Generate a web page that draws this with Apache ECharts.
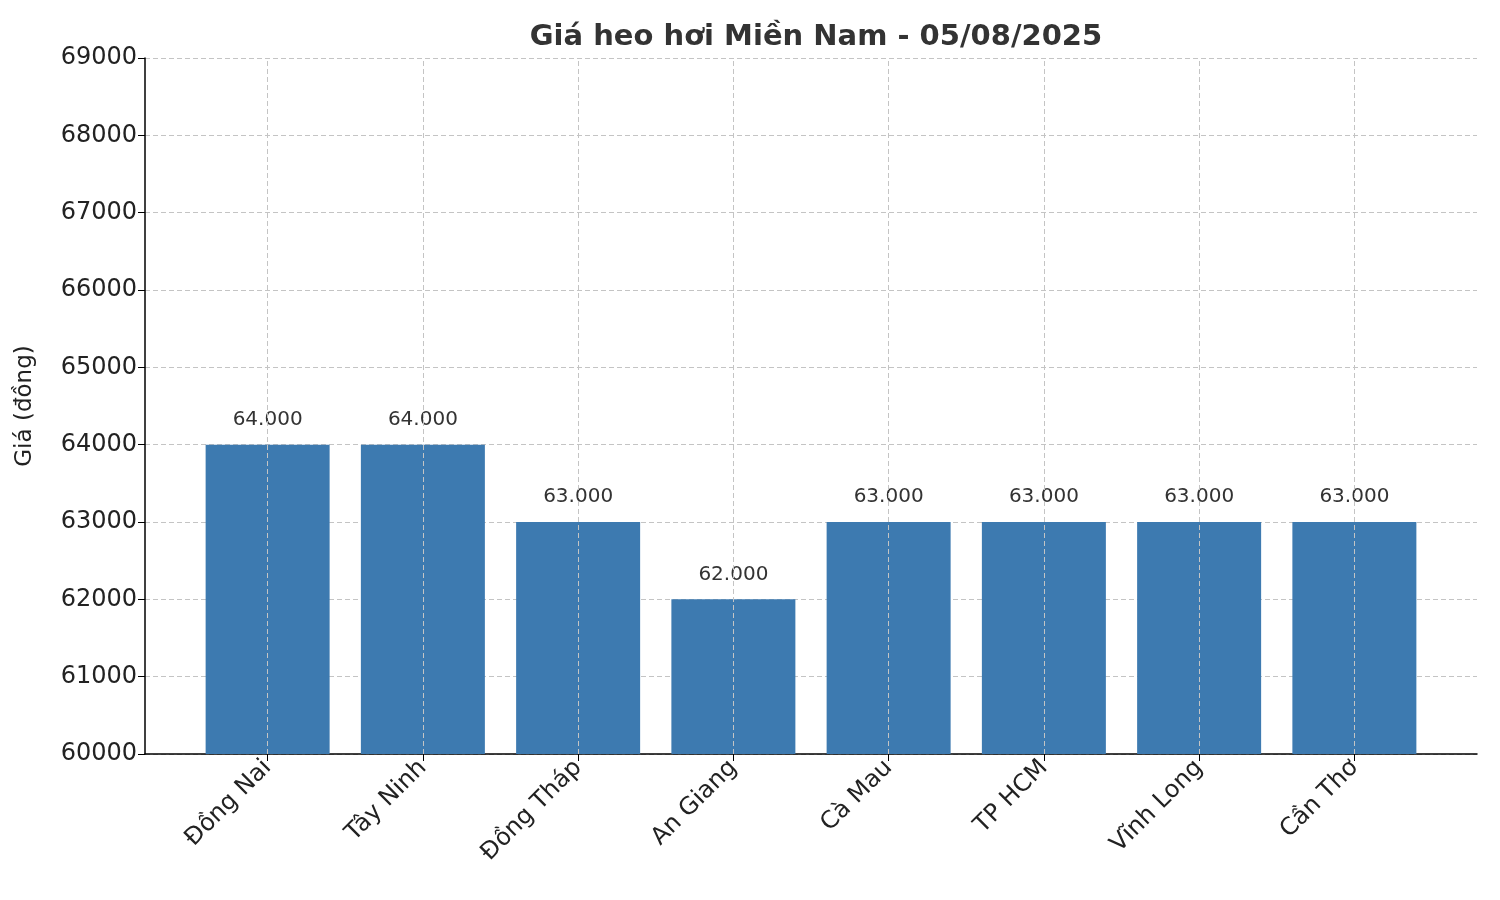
<!DOCTYPE html>
<html><head><meta charset="utf-8">
<script src="https://cdn.jsdelivr.net/npm/echarts@6/dist/echarts.min.js"></script>
<style>html,body{margin:0;padding:0;background:#fff}#c{width:1500px;height:900px}</style>
</head><body><div id="c"></div>
<script>
const categories = ['Đồng Nai','Tây Ninh','Đồng Tháp','An Giang','Cà Mau','TP HCM','Vĩnh Long','Cần Thơ'];
const prices = [64000,64000,63000,62000,63000,63000,63000,63000];
const yMin = 60000, yMax = 69000, yStep = 1000;
const font = 'DejaVu Sans';
const chart = echarts.init(document.getElementById('c'));
const dash = {color:'#c4c4c4', type:[5,3], width:1};
chart.setOption({
  animation:false,
  textStyle:{fontFamily:font},
  title:{text:'Giá heo hơi Miền Nam - 05/08/2025', left:811, top:18, textAlign:'center',
    textStyle:{fontFamily:font, fontSize:29, fontWeight:'bold', color:'#333'}},
  grid:[{left:145, right:23, top:58, bottom:146},{left:190, right:68, top:58, bottom:146}],
  xAxis:[
    {gridIndex:0, type:'value', min:0, max:1, axisLine:{show:true, lineStyle:{color:'#000', width:1.5}},
     axisTick:{show:false}, axisLabel:{show:false}, splitLine:{show:false}},
    {gridIndex:1, type:'category', data:categories, boundaryGap:true,
     axisLine:{show:false}, axisTick:{show:true, alignWithLabel:true, length:7, lineStyle:{color:'#000'}},
     axisLabel:{rotate:45, fontSize:24, color:'#222', margin:10, fontFamily:font}, splitLine:{show:false}}
  ],
  yAxis:[
    {gridIndex:0, type:'value', min:yMin, max:yMax, interval:yStep,
     name:'Giá (đồng)', nameLocation:'middle', nameGap:108, nameTextStyle:{fontSize:23, color:'#222', fontFamily:font},
     axisLine:{show:true, lineStyle:{color:'#000', width:1.5}}, axisTick:{show:true, length:7, lineStyle:{color:'#000'}},
     axisLabel:{fontSize:24, color:'#222', margin:8, fontFamily:font, formatter:v=>String(v)},
     splitLine:{show:true, lineStyle:dash}},
    {gridIndex:1, type:'value', min:yMin, max:yMax, interval:yStep, show:false, splitLine:{show:false}}
  ],
  series:[{
    type:'bar', xAxisIndex:1, yAxisIndex:1, data:prices, barWidth:124,
    itemStyle:{color:'#3d7ab0'},
    label:{show:true, position:'top', distance:15, fontSize:20, color:'#333', fontFamily:font,
      formatter:p=>p.value.toLocaleString('de-DE')},
    markLine:{silent:true, symbol:'none', label:{show:false}, lineStyle:dash, z:5,
      data:categories.map(c=>({xAxis:c}))}
  }]
});
</script></body></html>
